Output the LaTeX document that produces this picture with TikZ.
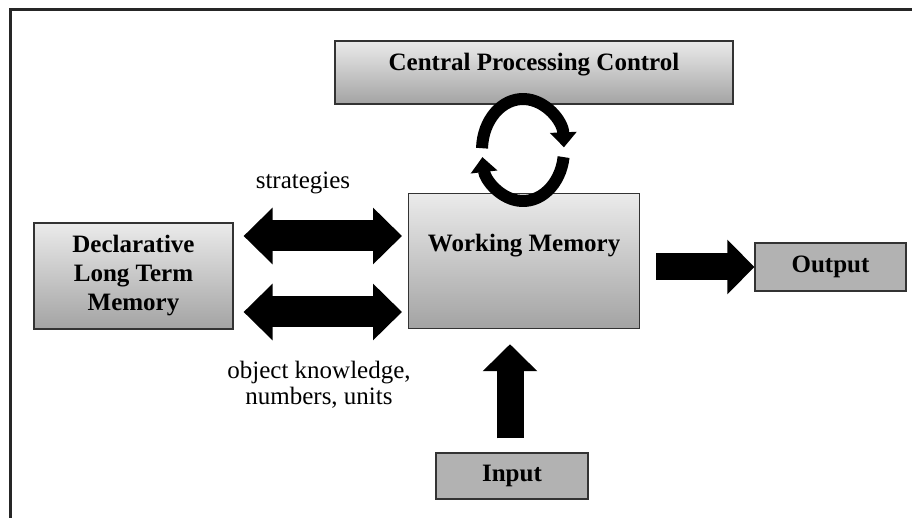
\documentclass[tikz,border=0pt]{standalone}
\usepackage{fontspec}
\setmainfont{Liberation Serif}
\usetikzlibrary{arrows.meta,calc}

\begin{document}
\begin{tikzpicture}[x=0.5pt, y=-0.5pt,
        box/.style={draw=black!80, line width=0.6pt, top color=black!8,
            bottom color=black!36, align=center, inner sep=0pt,
            font=\bfseries\fontsize{12.5}{14.5}\selectfont},
        flatbox/.style={draw=black!80, line width=0.6pt, fill=black!30,
            align=center, inner sep=0pt,
            font=\bfseries\fontsize{12.5}{14.5}\selectfont},
        lbl/.style={align=center, font=\fontsize{12.5}{13}\selectfont},
        dblarrow/.style={line width=15.5pt,
            {Triangle[width=27.5pt,length=14.5pt]}-{Triangle[width=27.5pt,length=14.5pt]}},
        fatarrow/.style={line width=13.5pt, -{Triangle[width=26.5pt,length=13.5pt]}},
        looparrow/.style={line width=6pt, -{Triangle[width=13pt,length=7.5pt]}}]
        \useasboundingbox (0,0) rectangle (912,518);
        \draw[line width=1.5pt, black!85] (10,518) -- (10,10) -- (912,10);

        \node[box, minimum width=199pt, minimum height=31.5pt,
            text height=15pt, text depth=16.5pt] (cpc) at (534,72.5) {Central Processing Control};
        \node[box, minimum width=99.5pt, minimum height=53pt] (decl) at (133.5,276)
            {Declarative\\Long Term\\Memory};
        \node[box, anchor=north west, minimum width=115.5pt, minimum height=67.5pt,
            text height=29pt, text depth=38.5pt] (wm) at (408,193) {Working Memory};
        \node[flatbox, minimum width=75.5pt, minimum height=24pt] (out) at (830.5,267) {Output};
        \node[flatbox, minimum width=76pt, minimum height=23pt] (in) at (512,476) {Input};

        \node[lbl] (strat) at (303,183) {strategies};
        \node[lbl] (objk)  at (319,385) {object knowledge,\\numbers, units};

        \draw[dblarrow, shorten <=5pt, shorten >=3pt] (decl.east |- 0,236) -- (wm.west |- 0,236);
        \draw[dblarrow, shorten <=5pt, shorten >=3pt] (decl.east |- 0,312) -- (wm.west |- 0,312);
        \draw[fatarrow, shorten <=8pt] (wm.east |- out.west) -- (out.west);
        \draw[fatarrow, shorten <=7pt, shorten >=7.5pt] (in.north -| 510,0) -- (wm.south -| 510,0);

        % cycle between control and working memory
        \coordinate (cyc) at (523,150);
        \draw[looparrow] ($(cyc)+(178:20.5pt and 25.5pt)$)
            arc[start angle=178, end angle=3, x radius=20.5pt, y radius=25.5pt];
        \draw[looparrow] ($(cyc)+(-8:20.5pt and 25.5pt)$)
            arc[start angle=-8, end angle=-172, x radius=20.5pt, y radius=25.5pt];
\end{tikzpicture}
\end{document}
